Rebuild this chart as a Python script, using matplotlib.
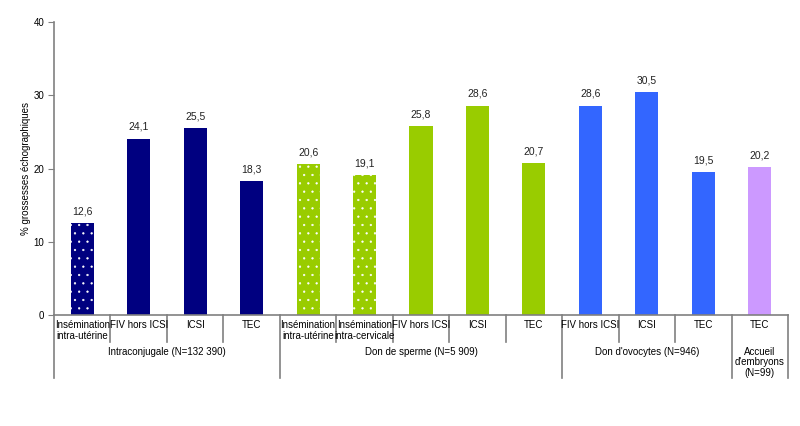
import matplotlib

matplotlib.use("Agg")
import matplotlib.pyplot as plt
from matplotlib.transforms import blended_transform_factory

plt.rcParams["font.family"] = ["Liberation Sans", "DejaVu Sans"]
plt.rcParams["hatch.linewidth"] = 0.4

# Data
categories = [
    "Insémination\nintra-utérine", "FIV hors ICSI", "ICSI", "TEC",
    "Insémination\nintra-utérine", "Insémination\nintra-cervicale", "FIV hors ICSI", "ICSI", "TEC",
    "FIV hors ICSI", "ICSI", "TEC",
    "TEC",
]
values = [12.6, 24.1, 25.5, 18.3, 20.6, 19.1, 25.8, 28.6, 20.7, 28.6, 30.5, 19.5, 20.2]
groups = ["Intraconjugale (N=132 390)", "Don de sperme (N=5 909)",
          "Don d'ovocytes (N=946)", "Accueil\nd'embryons\n(N=99)"]
group_sizes = [4, 5, 3, 1]
group_colors = ["#000080", "#99CC00", "#3366FF", "#CC99FF"]
dotted = [True, False, False, False, True, True, False, False, False, False, False, False, False]

fig = plt.figure(figsize=(8, 4.26), dpi=100)
ax = fig.add_axes([0.0675, 0.2606, 0.9175, 0.6875])

colors = []
for color, n in zip(group_colors, group_sizes):
    colors += [color] * n

xs = list(range(len(values)))
for x, v, c, d in zip(xs, values, colors, dotted):
    ax.bar(x, v, width=0.41, color=c, linewidth=0, zorder=2)
    if d:
        ax.bar(x, v, width=0.41, facecolor="none", edgecolor="white",
               hatch="..", linewidth=0, zorder=3)
    ax.text(x, v + 0.9, f"{v:.1f}".replace(".", ","), ha="center", va="bottom",
            fontsize=7.5, color="#222222")

ax.set_xlim(-0.5, len(values) - 0.5)
ax.set_ylim(0, 40)
ax.set_yticks([0, 10, 20, 30, 40])
ax.set_xticks([])
ax.tick_params(axis="y", labelsize=7, length=4, color="#808080", pad=3)
ax.set_ylabel("% grossesses échographiques", fontsize=7, labelpad=2)
for side in ["top", "right"]:
    ax.spines[side].set_visible(False)
ax.spines["left"].set_color("#808080")
ax.spines["bottom"].set_color("#808080")
ax.spines["left"].set_linewidth(1.2)
ax.spines["bottom"].set_linewidth(1.2)

trans = blended_transform_factory(ax.transData, ax.transAxes)
line_kw = dict(color="#808080", linewidth=1.2, transform=trans, clip_on=False)

# category labels and separators
for x, label in zip(xs, categories):
    ax.text(x, -0.018, label, ha="center", va="top", fontsize=7,
            linespacing=1.05, transform=trans)

group_edges = [-0.5]
for n in group_sizes:
    group_edges.append(group_edges[-1] + n)

for b in range(len(values) + 1):
    edge = b - 0.5
    depth = -0.215 if edge in group_edges else -0.092
    ax.plot([edge, edge], [0, depth], **line_kw)

# group labels
for g, label in enumerate(groups):
    mid = (group_edges[g] + group_edges[g + 1]) / 2
    ax.text(mid, -0.108, label, ha="center", va="top", fontsize=7,
            linespacing=1.1, transform=trans)

fig.savefig("out.png", dpi=100)
